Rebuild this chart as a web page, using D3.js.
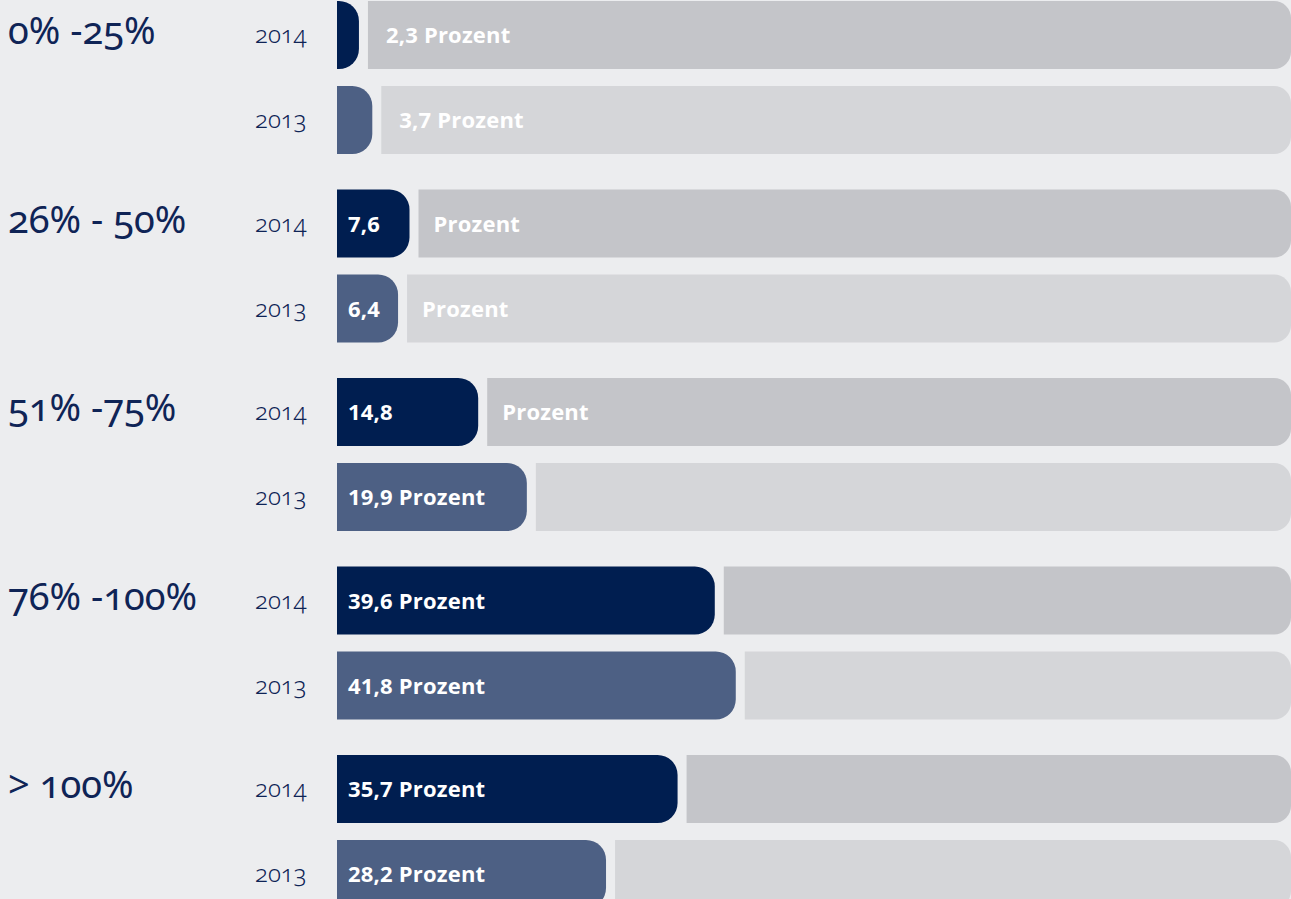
<!DOCTYPE html>
<html><head><meta charset="utf-8">
<script src="https://cdn.jsdelivr.net/npm/d3@7"></script>
<style>
html,body{margin:0;padding:0;background:#ECEDEF;overflow:hidden}
svg{display:block}
.cat{font-family:"Noto Sans";font-weight:400;font-size:38px;fill:#0F2456;font-feature-settings:"onum" 1}
.yr{font-family:"Noto Sans";font-weight:300;font-size:24px;fill:#0F2456;font-feature-settings:"onum" 1}
.val{font-family:"Open Sans";font-weight:700;font-size:22px;fill:#fff;letter-spacing:0.2px}
</style></head><body>
<script>
const categories = ["0% -25%", "26% - 50%", "51% -75%", "76% -100%", "> 100%"];
const years = ["2014", "2013"];
const values2014 = [2.3, 7.6, 14.8, 39.6, 35.7];
const values2013 = [3.7, 6.4, 19.9, 41.8, 28.2];
const unit = "Prozent";

const W = 1291, H = 899;
const colors = {"2014": "#001E50", "2013": "#4D6084"};
const restColors = {"2014": "#C4C5C9", "2013": "#D5D6D9"};

const svg = d3.select("body").append("svg").attr("width", W).attr("height", H);
svg.append("rect").attr("width", W).attr("height", H).attr("fill", "#ECEDEF");

const y = d3.scaleBand().domain(categories).range([1, 1 + 5 * 188.5]).padding(0);
const yi = d3.scaleBand().domain(years).range([0, 153]).paddingInner(0.2).paddingOuter(0);
const x = d3.scaleLinear().domain([0, 100]).range([337, 1291]);

const rows = [];
categories.forEach((c, i) => {
  rows.push({cat: c, year: "2014", v: values2014[i]});
  rows.push({cat: c, year: "2013", v: values2013[i]});
});

function rightRounded(x0, y0, w, h, r) {
  r = Math.min(r, w, h / 2);
  return `M${x0},${y0}H${x0 + w - r}A${r},${r} 0 0 1 ${x0 + w},${y0 + r}V${y0 + h - r}A${r},${r} 0 0 1 ${x0 + w - r},${y0 + h}H${x0}Z`;
}

const gap = 9;
const bh = yi.bandwidth();

svg.selectAll("text.cat").data(categories).join("text")
  .attr("class", "cat").attr("x", 8).attr("y", d => y(d) + 43).text(d => d);

const g = svg.selectAll("g.row").data(rows).join("g").attr("class", "row")
  .attr("transform", d => `translate(0,${y(d.cat) + yi(d.year)})`);

g.append("text").attr("class", "yr").attr("x", 255).attr("y", bh / 2 + 8).text(d => d.year);

g.append("path").attr("fill", d => restColors[d.year])
  .attr("d", d => rightRounded(x(d.v) + gap, 0, x(100) - x(d.v) - gap, bh, 17));

g.append("path").attr("fill", d => colors[d.year])
  .attr("d", d => rightRounded(x(0), 0, x(d.v) - x(0), bh, 20));

const fmt = v => String(v.toFixed(1)).replace(".", ",");
g.each(function(d) {
  const sel = d3.select(this);
  const full = fmt(d.v) + " " + unit;
  const barW = x(d.v) - x(0);
  const ty = bh / 2 + 8;
  if (barW >= 150) {
    sel.append("text").attr("class", "val").attr("x", x(0) + 11).attr("y", ty).text(full);
  } else if (barW >= 40) {
    sel.append("text").attr("class", "val").attr("x", x(0) + 11).attr("y", ty).text(fmt(d.v));
    sel.append("text").attr("class", "val").attr("x", x(d.v) + gap + 15).attr("y", ty).text(unit);
  } else {
    sel.append("text").attr("class", "val").attr("x", x(d.v) + gap + 18).attr("y", ty).text(full);
  }
});
</script>
</body></html>
